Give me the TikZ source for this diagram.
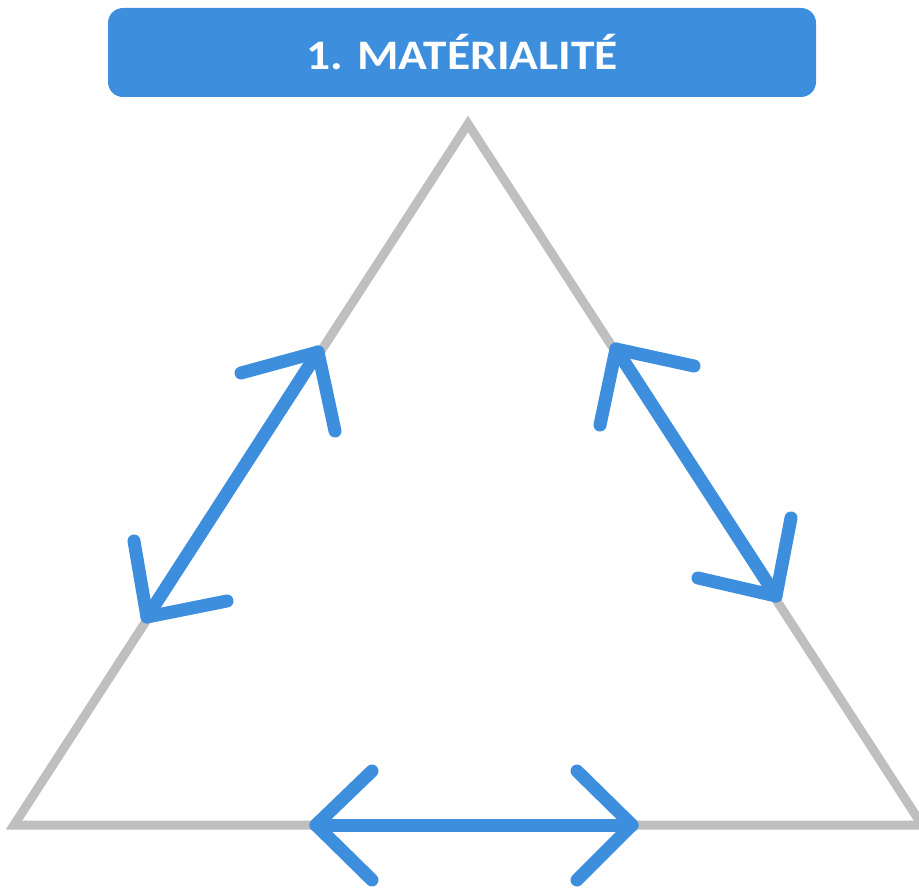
\documentclass[tikz,border=0pt]{standalone}
\usepackage{fontspec}
\setmainfont{Carlito}
\definecolor{tblue}{HTML}{3E8EDE}
\definecolor{tgray}{HTML}{BFBFBF}
\begin{document}
\begin{tikzpicture}[x=1pt,y=-1pt,
  side/.style={draw=tgray,line width=9pt,line cap=round,line join=miter},
  arr/.style={draw=tblue,line width=13pt,line cap=round,line join=round},
  titlebox/.style={fill=tblue,rounded corners=15pt,minimum width=708pt,minimum height=89pt,inner sep=0pt,
    text=white,font=\bfseries\fontsize{42}{50}\selectfont}]
\useasboundingbox (0,0) rectangle (919,888);
% triangle
\coordinate (A) at (468,124);
\coordinate (B) at (14,825);
\coordinate (C) at (922,825);
\draw[side] (B) -- (A) -- (C) -- cycle;
% title
\node[titlebox] (title) at (462,52.5) {\scalebox{1.13}[1]{1. MATÉRIALITÉ}};
% left arrow
\coordinate (L1) at (147,617);
\coordinate (L2) at (318,352);
\draw[arr] (L1) -- (L2);
\draw[arr] (241,373) -- (L2) -- (335,431);
\draw[arr] (134,541) -- (L1) -- (227,601);
% right arrow
\coordinate (R1) at (616,349);
\coordinate (R2) at (776,596);
\draw[arr] (R1) -- (R2);
\draw[arr] (694,366) -- (R1) -- (600,425);
\draw[arr] (791,518) -- (R2) -- (698,578);
% bottom arrow
\coordinate (D1) at (316,825);
\coordinate (D2) at (632,825);
\draw[arr] (D1) -- (D2);
\draw[arr] (372,771) -- (D1) -- (372,880);
\draw[arr] (577,771) -- (D2) -- (577,880);
\end{tikzpicture}
\end{document}
